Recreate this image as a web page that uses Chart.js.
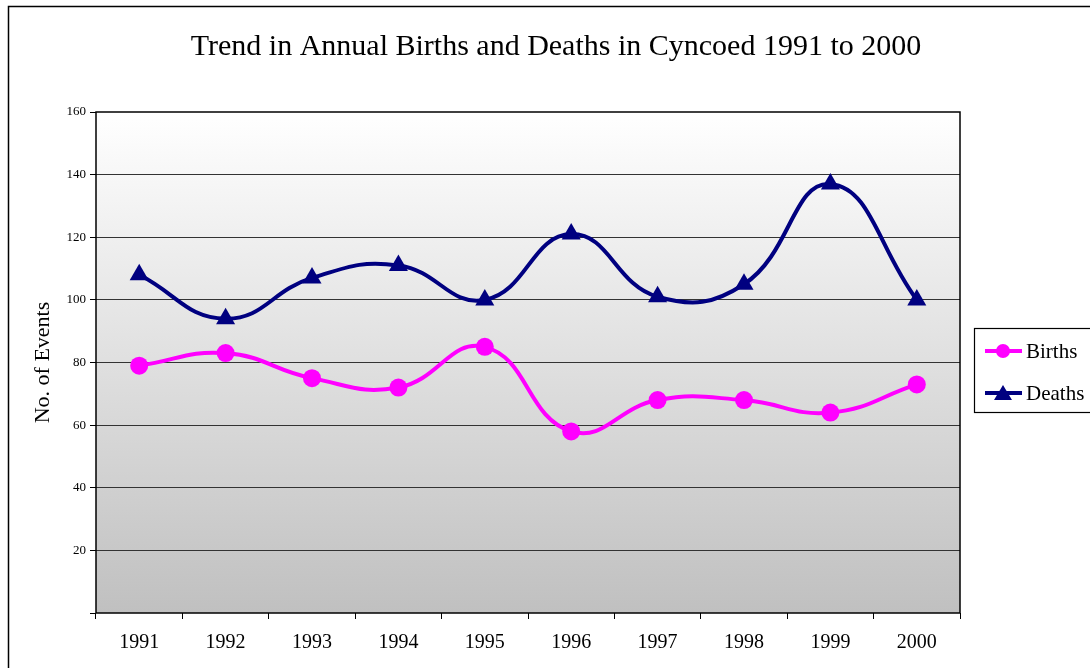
<!DOCTYPE html>
<html>
<head>
<meta charset="utf-8">
<style>
  html, body { margin: 0; padding: 0; background: #fff; }
  #wrap { position: relative; width: 1090px; height: 668px; }
</style>
<script src="https://cdn.jsdelivr.net/npm/chart.js@4/dist/chart.umd.min.js"></script>
</head>
<body>
<div id="wrap"><canvas id="chart" width="1090" height="668"></canvas></div>
<script>
// --- DATA ---
const years = ['1991', '1992', '1993', '1994', '1995', '1996', '1997', '1998', '1999', '2000'];
const births = [79, 83, 75, 72, 85, 58, 68, 68, 64, 73];
const deaths = [108, 94, 107, 111, 100, 121, 101, 105, 137, 100];
const chartTitle = 'Trend in Annual Births and Deaths in Cyncoed 1991 to 2000';

const SERIF = '"Liberation Serif", "Times New Roman", serif';
const PINK = '#ff00ff';
const NAVY = '#000080';

// frame, title, gradient plot background and border
const decorPlugin = {
    id: 'decor',
    beforeDraw(chart) {
        const { ctx, chartArea: a } = chart;
        ctx.save();
        ctx.fillStyle = '#fff';
        ctx.fillRect(0, 0, chart.width, chart.height);
        // outer frame
        ctx.strokeStyle = '#000';
        ctx.lineWidth = 1.5;
        ctx.strokeRect(8.5, 6.5, chart.width + 10, chart.height + 10);
        // plot gradient
        const g = ctx.createLinearGradient(0, a.top, 0, a.bottom);
        g.addColorStop(0, '#ffffff');
        g.addColorStop(1, '#c0c0c0');
        ctx.fillStyle = g;
        ctx.fillRect(a.left, a.top, a.right - a.left, a.bottom - a.top);
        // title
        ctx.fillStyle = '#000';
        ctx.font = '30px ' + SERIF;
        ctx.textAlign = 'center';
        ctx.textBaseline = 'middle';
        ctx.fillText(chartTitle, 556, 47);
        ctx.restore();
    },
    afterDatasetsDraw(chart) {
        const { ctx, chartArea: a } = chart;
        ctx.save();
        ctx.strokeStyle = '#000';
        ctx.lineWidth = 1.5;
        ctx.strokeRect(a.left, a.top, a.right - a.left, a.bottom - a.top);
        ctx.restore();
    },
    afterDraw(chart) {
        // legend box on the right
        const { ctx } = chart;
        ctx.save();
        ctx.fillStyle = '#fff';
        ctx.strokeStyle = '#000';
        ctx.lineWidth = 1.2;
        ctx.fillRect(974.5, 328.5, 120, 84);
        ctx.strokeRect(974.5, 328.5, 120, 84);
        chart.data.datasets.forEach((ds, i) => {
            const y = 351 + i * 42;
            ctx.strokeStyle = ds.borderColor;
            ctx.lineWidth = 4;
            ctx.beginPath();
            ctx.moveTo(985, y);
            ctx.lineTo(1022, y);
            ctx.stroke();
            ctx.fillStyle = ds.borderColor;
            ctx.beginPath();
            if (ds.pointStyle === 'triangle') {
                ctx.moveTo(1003, y - 8);
                ctx.lineTo(1012, y + 7);
                ctx.lineTo(994, y + 7);
                ctx.closePath();
            } else {
                ctx.arc(1003, y, 7, 0, Math.PI * 2);
            }
            ctx.fill();
            ctx.fillStyle = '#000';
            ctx.font = '21px ' + SERIF;
            ctx.textAlign = 'left';
            ctx.textBaseline = 'middle';
            ctx.fillText(ds.label, 1026, y + 1);
        });
        ctx.restore();
    }
};

new Chart(document.getElementById('chart'), {
    type: 'line',
    data: {
        labels: years,
        datasets: [
            {
                label: 'Births',
                data: births,
                borderColor: PINK,
                backgroundColor: PINK,
                borderWidth: 4,
                tension: 0.45,
                pointStyle: 'circle',
                pointRadius: 9,
                pointHoverRadius: 9,
                pointBorderWidth: 0,
                fill: false
            },
            {
                label: 'Deaths',
                data: deaths,
                borderColor: NAVY,
                backgroundColor: NAVY,
                borderWidth: 4,
                tension: 0.45,
                pointStyle: 'triangle',
                pointRadius: 11,
                pointHoverRadius: 11,
                pointBorderWidth: 0,
                fill: false
            }
        ]
    },
    options: {
        responsive: false,
        animation: false,
        layout: { padding: { left: 28, right: 130, top: 112, bottom: 0 } },
        plugins: {
            legend: { display: false },
            title: { display: false },
            tooltip: { enabled: false }
        },
        scales: {
            x: {
                offset: true,
                afterFit(scale) { scale.height = 55; },
                grid: {
                    offset: true,
                    drawOnChartArea: false,
                    drawTicks: true,
                    tickLength: 6,
                    color: '#000'
                },
                border: { display: false },
                ticks: {
                    color: '#000',
                    font: { family: SERIF, size: 20 },
                    padding: 12,
                    maxRotation: 0
                }
            },
            y: {
                min: 0,
                max: 160,
                afterFit(scale) { scale.width = 68; },
                title: {
                    display: true,
                    text: 'No. of Events',
                    color: '#000',
                    font: { family: SERIF, size: 22 },
                    padding: { top: 2, bottom: 2 }
                },
                grid: {
                    color: ctx => (ctx.tick && (ctx.tick.value === 0 || ctx.tick.value === 160)) ? 'rgba(0,0,0,0)' : '#333',
                    tickColor: '#000',
                    drawTicks: true,
                    tickLength: 6,
                    lineWidth: 1
                },
                border: { display: false },
                ticks: {
                    stepSize: 20,
                    color: '#000',
                    font: { family: SERIF, size: 13 },
                    padding: 4,
                    callback: v => (v === 0 ? '' : v)
                }
            }
        }
    },
    plugins: [decorPlugin]
});
</script>
</body>
</html>
